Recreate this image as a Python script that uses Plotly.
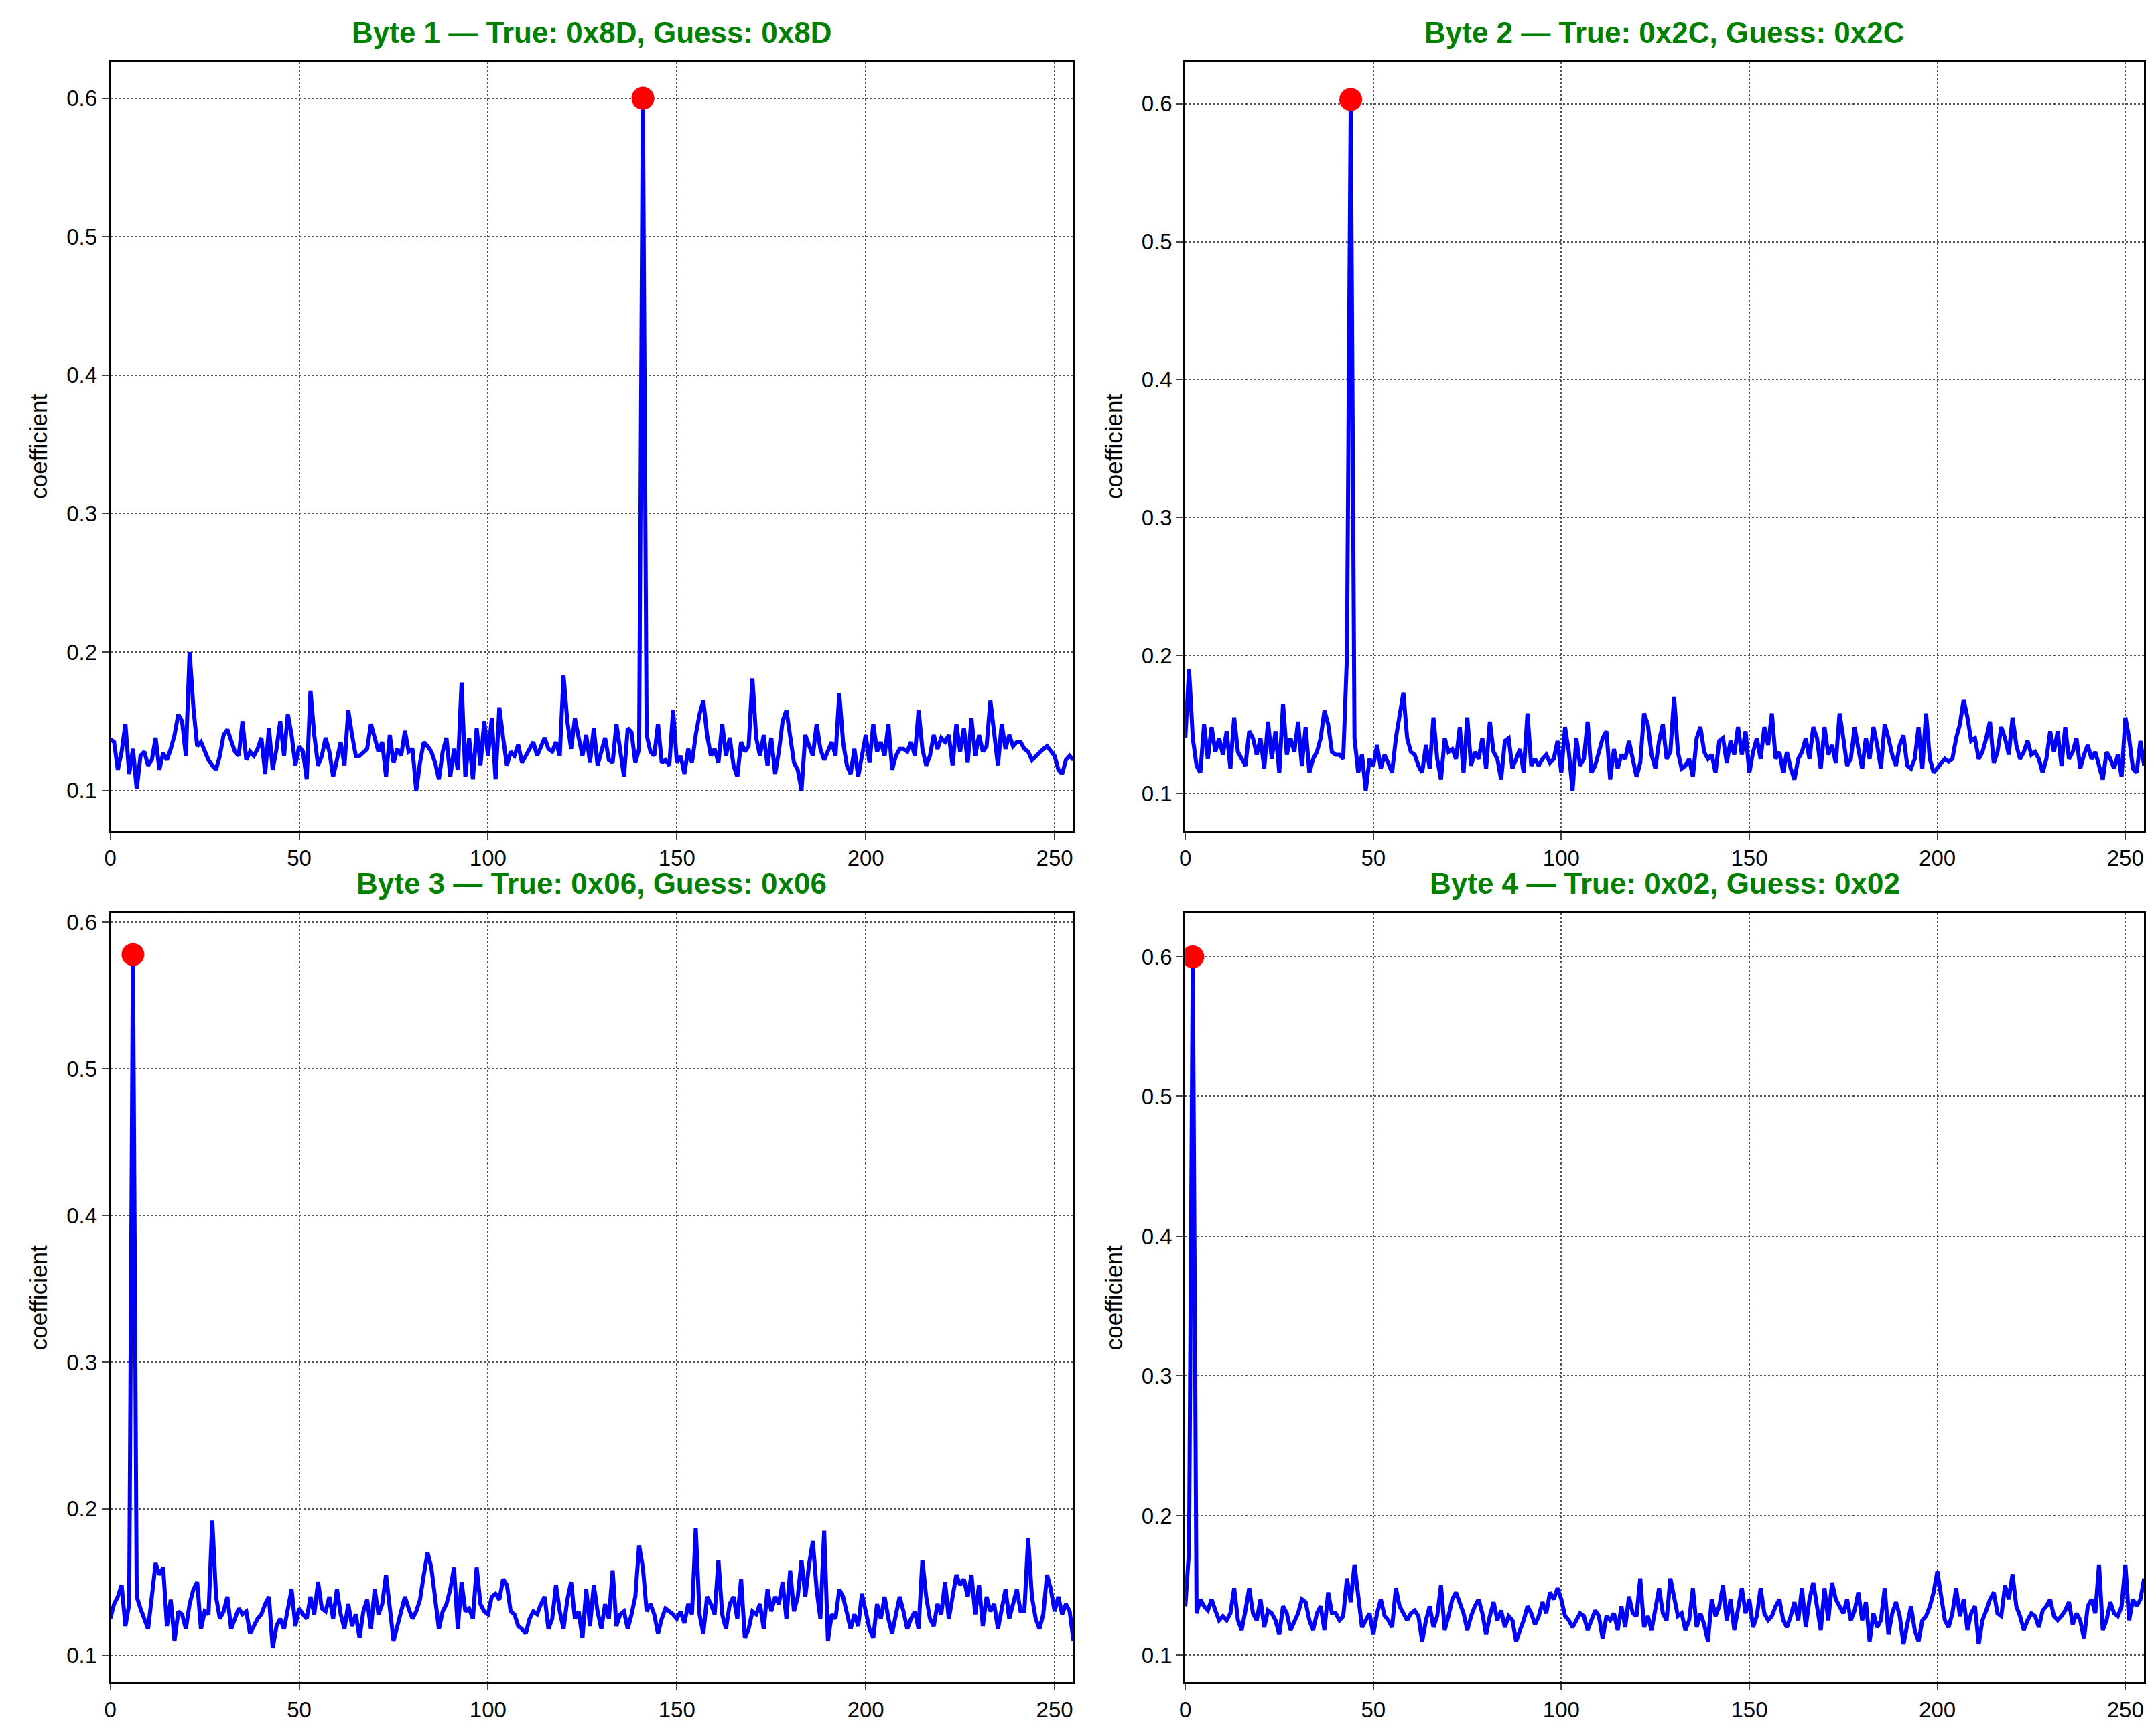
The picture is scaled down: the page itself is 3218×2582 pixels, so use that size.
import plotly.graph_objects as go

b1 = [.137,.135,.115,.128,.148,.112,.13,.101,.125,.128,.118,.122,.138,.115,.127,.122,
.13,.14,.155,.15,.125,.20,.16,.132,.135,.128,.122,.118,.115,.125,.14,.144,
.135,.128,.125,.15,.122,.128,.125,.13,.138,.112,.145,.115,.13,.15,.125,.155,
.14,.118,.132,.128,.108,.172,.14,.118,.125,.138,.128,.11,.122,.135,.118,.158,
.14,.125,.125,.128,.13,.148,.138,.128,.135,.11,.14,.12,.13,.125,.143,.128,
.13,.1,.12,.135,.132,.128,.12,.108,.128,.138,.11,.13,.115,.178,.11,.138,
.108,.145,.118,.15,.125,.152,.108,.16,.138,.118,.128,.125,.133,.12,.125,.13,
.135,.125,.132,.138,.13,.128,.135,.125,.183,.15,.13,.152,.138,.125,.14,.12,
.145,.118,.128,.138,.122,.12,.148,.13,.11,.145,.142,.12,.13,.60,.14,.128,
.125,.148,.12,.122,.118,.158,.12,.125,.112,.13,.12,.14,.155,.165,.14,.125,
.13,.12,.148,.125,.138,.118,.11,.135,.128,.132,.181,.138,.125,.14,.118,.138,
.112,.128,.15,.158,.14,.12,.115,.10,.14,.132,.125,.148,.13,.122,.128,.135,
.125,.17,.135,.118,.112,.13,.11,.125,.14,.12,.148,.128,.135,.125,.148,.115,
.125,.13,.13,.128,.135,.125,.158,.13,.118,.125,.14,.13,.138,.135,.14,.118,
.148,.128,.145,.12,.152,.125,.14,.128,.132,.165,.142,.118,.148,.13,.14,.132,
.135,.135,.13,.128,.122,.125,.128,.13,.132,.128,.125,.115,.112,.122,.125,.122]

b2 = [.14,.19,.14,.12,.115,.15,.125,.148,.13,.14,.128,.145,.118,.155,.13,.125,
.12,.145,.14,.128,.14,.118,.152,.125,.145,.115,.165,.128,.14,.13,.152,.12,
.148,.115,.125,.13,.14,.16,.15,.13,.128,.128,.125,.2,.603,.14,.115,.128,
.102,.125,.12,.135,.118,.128,.122,.115,.14,.155,.173,.14,.13,.128,.12,.115,
.135,.118,.155,.125,.11,.14,.13,.132,.125,.148,.115,.155,.12,.13,.125,.14,
.118,.152,.13,.125,.11,.138,.14,.118,.125,.132,.115,.158,.12,.125,.12,.125,
.128,.122,.125,.138,.115,.148,.13,.102,.14,.12,.125,.152,.115,.12,.13,.14,
.145,.11,.132,.118,.128,.125,.138,.125,.112,.122,.158,.15,.128,.118,.138,.15,
.125,.13,.17,.13,.118,.12,.125,.112,.14,.148,.13,.125,.128,.115,.138,.14,
.122,.138,.128,.148,.128,.145,.115,.13,.14,.125,.148,.135,.158,.125,.13,.115,
.13,.118,.11,.125,.13,.14,.125,.148,.14,.118,.148,.128,.135,.122,.158,.14,
.12,.125,.148,.132,.118,.14,.125,.148,.135,.118,.15,.14,.128,.12,.135,.142,
.12,.118,.125,.148,.118,.158,.125,.115,.118,.122,.125,.123,.125,.14,.15,.168,
.155,.138,.14,.125,.13,.14,.152,.122,.13,.148,.14,.128,.155,.135,.125,.13,
.138,.128,.13,.125,.115,.125,.145,.13,.145,.12,.148,.125,.13,.14,.118,.128,
.135,.125,.13,.12,.11,.13,.125,.118,.128,.112,.155,.14,.118,.115,.138,.12]

b3 = [.125,.135,.14,.148,.12,.135,.578,.14,.132,.125,.118,.14,.163,.155,.16,.12,
.138,.11,.13,.128,.118,.135,.145,.15,.118,.13,.128,.192,.14,.125,.13,.14,
.118,.125,.132,.128,.13,.115,.12,.125,.128,.135,.14,.105,.12,.125,.118,.13,
.145,.12,.132,.128,.125,.14,.128,.15,.132,.13,.14,.125,.145,.128,.118,.135,
.12,.128,.112,.13,.138,.118,.145,.128,.135,.155,.13,.11,.12,.13,.14,.132,
.125,.13,.138,.155,.17,.16,.14,.118,.13,.135,.145,.16,.118,.15,.13,.132,
.125,.16,.135,.13,.128,.14,.142,.138,.152,.148,.13,.128,.12,.118,.115,.125,
.13,.128,.135,.14,.118,.125,.148,.13,.118,.138,.15,.125,.13,.112,.145,.12,
.148,.13,.118,.135,.125,.158,.12,.128,.13,.118,.128,.14,.175,.16,.13,.135,
.128,.115,.125,.132,.13,.128,.125,.13,.122,.135,.128,.187,.128,.115,.14,.135,
.128,.165,.128,.118,.135,.14,.125,.152,.112,.118,.13,.128,.135,.118,.145,.13,
.14,.135,.15,.125,.158,.13,.14,.165,.14,.162,.178,.145,.125,.185,.11,.128,
.125,.145,.14,.13,.118,.128,.12,.142,.13,.118,.112,.135,.125,.14,.125,.115,
.128,.14,.13,.118,.125,.13,.118,.165,.14,.125,.12,.135,.128,.15,.125,.14,
.155,.148,.152,.14,.155,.128,.148,.12,.14,.13,.135,.118,.13,.145,.125,.135,
.145,.13,.13,.18,.14,.125,.118,.128,.155,.145,.13,.14,.128,.135,.13,.11]

b4 = [.135,.175,.60,.13,.14,.135,.132,.14,.132,.125,.128,.125,.13,.148,.125,.118,
.132,.148,.13,.125,.14,.12,.132,.13,.125,.115,.135,.13,.118,.125,.13,.14,
.138,.125,.118,.13,.135,.118,.145,.13,.13,.125,.128,.155,.138,.165,.14,.12,
.125,.13,.115,.13,.14,.128,.125,.12,.148,.135,.13,.125,.13,.132,.128,.11,
.125,.135,.12,.128,.15,.118,.128,.14,.145,.138,.13,.118,.128,.135,.14,.13,
.115,.128,.138,.125,.132,.12,.128,.125,.11,.118,.125,.135,.13,.122,.128,.138,
.13,.145,.14,.148,.14,.128,.125,.12,.125,.13,.128,.118,.125,.132,.128,.112,
.128,.125,.13,.118,.135,.12,.142,.13,.128,.155,.12,.128,.118,.135,.148,.13,
.125,.155,.14,.128,.13,.118,.125,.148,.12,.13,.122,.11,.14,.128,.135,.15,
.125,.14,.118,.135,.148,.13,.14,.12,.128,.148,.13,.125,.128,.135,.14,.125,
.12,.128,.138,.125,.148,.12,.14,.152,.135,.118,.148,.125,.152,.14,.135,.13,
.14,.125,.132,.145,.125,.138,.11,.13,.12,.125,.148,.115,.13,.138,.128,.108,
.122,.135,.118,.11,.125,.128,.135,.145,.16,.14,.125,.12,.13,.148,.128,.14,
.118,.13,.135,.108,.125,.132,.14,.145,.13,.128,.15,.14,.158,.135,.128,.118,
.125,.13,.128,.12,.132,.135,.14,.128,.125,.128,.132,.138,.122,.13,.125,.112,
.135,.14,.13,.165,.118,.125,.138,.13,.128,.135,.165,.125,.14,.135,.14,.155]

titles = ["Byte 1 — True: 0x8D, Guess: 0x8D", "Byte 2 — True: 0x2C, Guess: 0x2C",
          "Byte 3 — True: 0x06, Guess: 0x06", "Byte 4 — True: 0x02, Guess: 0x02"]
series = [b1, b2, b3, b4]
yranges = [[0.071, 0.626], [0.073, 0.630], [0.082, 0.606], [0.081, 0.631]]
xdoms = [[0.046, 0.494], [0.546, 0.992], [0.046, 0.494], [0.546, 0.992]]
ydoms = [[0.524, 0.969], [0.524, 0.969], [0.031, 0.476], [0.031, 0.476]]

FONT = "Liberation Sans, Arial, sans-serif"
fig = go.Figure()
layout = dict(width=3218, height=2582, margin=dict(l=0, r=0, t=0, b=0),
              paper_bgcolor="white", plot_bgcolor="white", showlegend=False,
              font=dict(family=FONT, size=33, color="black"))
ann = []
for i, (vals, t) in enumerate(zip(series, titles)):
    k = "" if i == 0 else str(i + 1)
    xs = list(range(len(vals)))
    m = max(range(len(vals)), key=lambda j: vals[j])
    fig.add_trace(go.Scatter(x=xs, y=vals, mode="lines", line=dict(color="#0000ff", width=6),
                             xaxis="x" + k, yaxis="y" + k))
    fig.add_trace(go.Scatter(x=[m], y=[vals[m]], mode="markers",
                             marker=dict(color="#ff0000", size=34), xaxis="x" + k, yaxis="y" + k))
    ax = dict(showline=True, linecolor="black", linewidth=3, mirror=True, ticks="outside",
              ticklen=10, tickwidth=2, showgrid=True, gridcolor="#555555", griddash="dot",
              gridwidth=1.5, zeroline=False)
    layout["xaxis" + k] = dict(ax, domain=xdoms[i], range=[0, 255], tickvals=[0, 50, 100, 150, 200, 250],
                               anchor="y" + k)
    layout["yaxis" + k] = dict(ax, domain=ydoms[i], range=yranges[i], tickvals=[0.1, 0.2, 0.3, 0.4, 0.5, 0.6],
                               tickformat=".1f", anchor="x" + k,
                               title=dict(text="coefficient", font=dict(size=35), standoff=18))
    ann.append(dict(text="<b>" + t + "</b>", x=sum(xdoms[i]) / 2, y=ydoms[i][1] + 0.007,
                    xref="paper", yref="paper", xanchor="center", yanchor="bottom", showarrow=False,
                    font=dict(size=44, color="#008000", family=FONT)))
layout["annotations"] = ann
fig.update_layout(**layout)
fig.write_html("out.html")
